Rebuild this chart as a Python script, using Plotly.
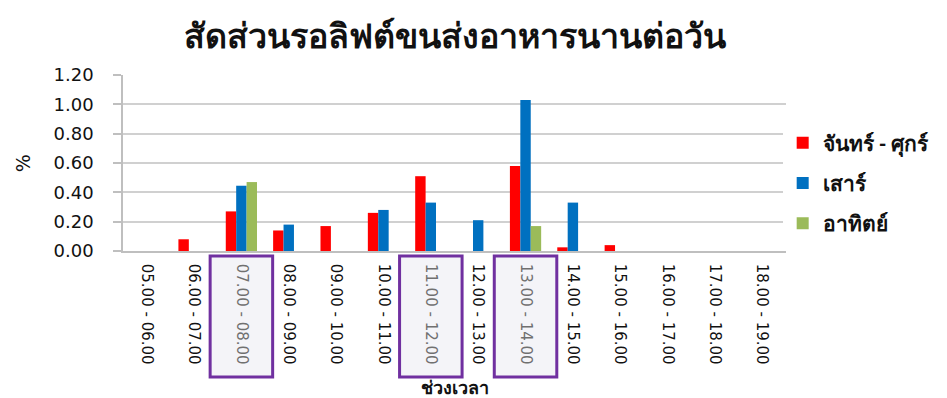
import plotly.graph_objects as go

# Time slots (hour ranges)
slots = ["05.00 - 06.00", "06.00 - 07.00", "07.00 - 08.00", "08.00 - 09.00",
         "09.00 - 10.00", "10.00 - 11.00", "11.00 - 12.00", "12.00 - 13.00",
         "13.00 - 14.00", "14.00 - 15.00", "15.00 - 16.00", "16.00 - 17.00",
         "17.00 - 18.00", "18.00 - 19.00"]

# Share of long lift waits per day (%)
weekday = [0.00, 0.08, 0.27, 0.14, 0.17, 0.26, 0.51, 0.00, 0.58, 0.025, 0.04, 0.00, 0.00, 0.00]
saturday = [0.00, 0.00, 0.445, 0.18, 0.00, 0.28, 0.33, 0.21, 1.03, 0.33, 0.00, 0.00, 0.00, 0.00]
sunday = [0.00, 0.00, 0.47, 0.00, 0.00, 0.00, 0.00, 0.00, 0.17, 0.00, 0.00, 0.00, 0.00, 0.00]

series_names = ["จันทร์ - ศุกร์", "เสาร์", "อาทิตย์"]
series_colors = ["#FF0000", "#0070C0", "#9BBB59"]

# Peak slots that get a framed label
highlighted = ["07.00 - 08.00", "11.00 - 12.00", "13.00 - 14.00"]

y_ticks = [0.0, 0.2, 0.4, 0.6, 0.8, 1.0, 1.2]

FONT = "DejaVu Sans, Noto Sans, sans-serif"
THAI = "Noto Sans, DejaVu Sans, sans-serif"

fig = go.Figure()
for i, (name, vals, color) in enumerate(zip(series_names, [weekday, saturday, sunday], series_colors)):
    fig.add_trace(go.Bar(
        x=slots, y=vals, name=name,
        marker=dict(color=color, line=dict(width=0)),
        legendgroup=str(i),
    ))

tick_text = [
    f'<span style="color:#707070">{s}</span>' if s in highlighted else s
    for s in slots
]

# Framed boxes behind the peak-slot labels
for s in highlighted:
    idx = slots.index(s)
    fig.add_shape(
        type="rect", xref="x", yref="paper",
        x0=idx - 0.66, x1=idx + 0.66, y0=-0.028, y1=-0.716,
        fillcolor="#F4F4F8", line=dict(color="#7030A0", width=3),
        layer="below",
    )

fig.update_layout(
    width=947, height=398,
    margin=dict(l=123, r=155, t=75, b=147),
    paper_bgcolor="white", plot_bgcolor="white",
    barmode="group", bargap=0.34, bargroupgap=0,
    font=dict(family=FONT, color="#1a1a1a"),
    title=dict(
        text="สัดส่วนรอลิฟต์ขนส่งอาหารนานต่อวัน",
        x=0.5, xref="paper", y=0.91, yanchor="middle",
        font=dict(size=34, color="#111111", family=THAI, weight=600),
    ),
    legend=dict(
        x=0.995, xanchor="left", y=0.73, yanchor="top",
        font=dict(size=21, color="#111111", family=THAI, weight=600),
        tracegroupgap=10, traceorder="grouped",
        itemwidth=30,
    ),
    xaxis=dict(
        type="category",
        tickmode="array", tickvals=slots, ticktext=tick_text,
        tickangle=90, tickfont=dict(size=15, color="#111111"),
        ticks="", ticklabelstandoff=8,
        showline=True, linecolor="#BFBFBF", linewidth=1.5,
        showgrid=False,
    ),
    yaxis=dict(
        range=[0, 1.2], tickvals=y_ticks, tickformat=".2f",
        tickfont=dict(size=18, color="#111111"),
        ticks="outside", ticklen=8, tickcolor="#BFBFBF", tickwidth=1.5,
        showline=True, linecolor="#BFBFBF", linewidth=1.5,
        showgrid=True, gridcolor="#D0D0D0", gridwidth=1.5,
        zeroline=False, ticklabelstandoff=16,
    ),
    annotations=[
        dict(text="%", xref="paper", yref="paper", x=-0.17, y=0.5,
             textangle=-90, showarrow=False, font=dict(size=19, color="#111111")),
        dict(text="ช่วงเวลา", xref="paper", yref="paper", x=0.5, y=-0.845,
             yanchor="bottom", showarrow=False, borderpad=0,
             font=dict(size=18, color="#111111", family=THAI, weight=600)),
    ],
)

fig.write_html("out.html")
